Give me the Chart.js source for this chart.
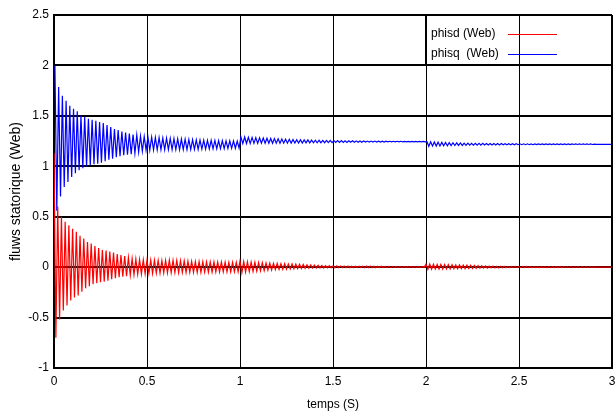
<!DOCTYPE html>
<html>
<head>
<meta charset="utf-8">
<script src="https://cdn.jsdelivr.net/npm/chart.js@4/dist/chart.umd.min.js"></script>
<style>
  html, body { margin: 0; padding: 0; background: #fff; overflow: hidden; }
  #wrap { width: 616px; height: 414px; position: relative; }
</style>
</head>
<body>
<div id="wrap"><canvas id="flux"></canvas></div>
<script>
// demi-periode des oscillations (50 Hz), en secondes
const halfPeriod = 0.01;
const startD = 0;
const startQ = 0.005;

const labels = ['phisd (Web)', 'phisq  (Web)'];
const xTicks = [0, 0.5, 1, 1.5, 2, 2.5, 3];
const yTicks = [-1, -0.5, 0, 0.5, 1, 1.5, 2, 2.5];

// phisd : crete / creux alternes, un point par demi-periode
const phisd = [
  1.13, -0.70, 0.60, -0.52, 0.50, -0.43, 0.45, -0.38, 0.415, -0.33,
  0.38, -0.30, 0.35, -0.28, 0.31, -0.245, 0.285, -0.21, 0.25, -0.19,
  0.235, -0.17, 0.21, -0.16, 0.19, -0.15, 0.17, -0.145, 0.165, -0.135,
  0.155, -0.12, 0.145, -0.11, 0.13, -0.10, 0.12, -0.095, 0.11, -0.09,
  0.095, -0.08, 0.085, -0.075, 0.08, -0.07, 0.075, -0.068, 0.072, -0.065,
  0.07, -0.063, 0.07, -0.062, 0.068, -0.06, 0.066, -0.06, 0.066, -0.058,
  0.068, -0.056, 0.07, -0.055, 0.068, -0.054, 0.066, -0.054, 0.064, -0.053,
  0.062, -0.053, 0.06, -0.052, 0.058, -0.052, 0.056, -0.053, 0.055, -0.052,
  0.054, -0.05, 0.053, -0.05, 0.052, -0.05, 0.052, -0.048, 0.05, -0.048,
  0.05, -0.047, 0.049, -0.046, 0.048, -0.046, 0.048, -0.045, 0.047, -0.045,
  0.06, -0.055, 0.055, -0.05, 0.052, -0.045, 0.05, -0.042, 0.048, -0.04,
  0.046, -0.037, 0.044, -0.034, 0.042, -0.03, 0.04, -0.028, 0.038, -0.025,
  0.037, -0.023, 0.035, -0.021, 0.034, -0.02, 0.032, -0.018, 0.031, -0.017,
  0.03, -0.015, 0.028, -0.014, 0.026, -0.012, 0.024, -0.011, 0.022, -0.01,
  0.02, -0.009, 0.018, -0.008, 0.017, -0.008, 0.015, -0.007, 0.014, -0.007,
  0.013, -0.007, 0.012, -0.006, 0.011, -0.006, 0.01, -0.005, 0.01, -0.005,
  0.009, -0.005, 0.008, -0.004, 0.008, -0.004, 0.009, -0.005, 0.01, -0.005,
  0.01, -0.005, 0.009, -0.005, 0.009, -0.004, 0.008, -0.004, 0.007, -0.004,
  0.006, -0.003, 0.006, -0.003, 0.005, -0.003, 0.005, -0.003, 0.005, -0.002,
  0.004, -0.002, 0.004, -0.002, 0.004, -0.002, 0.004, -0.002, 0.004, -0.002,
  0.03, -0.022, 0.03, -0.021, 0.029, -0.02, 0.028, -0.02, 0.027, -0.019,
  0.026, -0.018, 0.025, -0.018, 0.024, -0.017, 0.023, -0.016, 0.022, -0.016,
  0.021, -0.015, 0.02, -0.014, 0.019, -0.013, 0.018, -0.012, 0.016, -0.011,
  0.014, -0.01, 0.012, -0.009, 0.011, -0.008, 0.01, -0.007, 0.009, -0.007,
  0.008, -0.006, 0.008, -0.006, 0.007, -0.005, 0.007, -0.005, 0.006, -0.005,
  0.006, -0.005, 0.006, -0.004, 0.006, -0.004, 0.005, -0.004, 0.005, -0.004,
  0.005, -0.004, 0.005, -0.004, 0.005, -0.004, 0.005, -0.004, 0.005, -0.004,
  0.005, -0.004, 0.005, -0.004, 0.005, -0.003, 0.004, -0.003, 0.004, -0.003,
  0.004, -0.003, 0.004, -0.003, 0.004, -0.003, 0.004, -0.003, 0.004, -0.003,
  0.003, 0, 0, 0, 0, 0, 0, 0, 0, 0,
  0
];

// phisq : meme principe, decale d'un quart de periode
const phisq = [
  2.00, 0.56, 1.785, 0.70, 1.70, 0.795, 1.65, 0.845, 1.60, 0.894,
  1.57, 0.93, 1.545, 0.96, 1.505, 0.98, 1.49, 1.00, 1.47, 1.01,
  1.46, 1.02, 1.45, 1.025, 1.44, 1.035, 1.43, 1.05, 1.41, 1.065,
  1.39, 1.075, 1.37, 1.09, 1.36, 1.10, 1.345, 1.11, 1.335, 1.115,
  1.325, 1.12, 1.315, 1.13, 1.31, 1.14, 1.30, 1.15, 1.295, 1.16,
  1.29, 1.16, 1.288, 1.162, 1.285, 1.163, 1.283, 1.165, 1.28, 1.165,
  1.278, 1.166, 1.276, 1.166, 1.274, 1.166, 1.272, 1.165, 1.27, 1.165,
  1.268, 1.165, 1.266, 1.166, 1.264, 1.167, 1.262, 1.168, 1.26, 1.17,
  1.259, 1.171, 1.258, 1.172, 1.257, 1.173, 1.256, 1.174, 1.255, 1.175,
  1.254, 1.176, 1.253, 1.177, 1.252, 1.178, 1.251, 1.179, 1.25, 1.18,
  1.29, 1.225, 1.29, 1.226, 1.288, 1.226, 1.286, 1.227, 1.284, 1.227,
  1.282, 1.228, 1.28, 1.228, 1.278, 1.228, 1.276, 1.228, 1.274, 1.228,
  1.272, 1.228, 1.27, 1.229, 1.268, 1.229, 1.267, 1.23, 1.266, 1.23,
  1.264, 1.231, 1.263, 1.231, 1.262, 1.232, 1.261, 1.232, 1.26, 1.233,
  1.259, 1.233, 1.258, 1.234, 1.257, 1.234, 1.256, 1.235, 1.256, 1.235,
  1.255, 1.236, 1.254, 1.236, 1.254, 1.237, 1.253, 1.237, 1.253, 1.238,
  1.252, 1.238, 1.252, 1.239, 1.251, 1.239, 1.251, 1.24, 1.25, 1.24,
  1.25, 1.24, 1.25, 1.241, 1.249, 1.241, 1.249, 1.241, 1.249, 1.242,
  1.248, 1.242, 1.248, 1.242, 1.248, 1.242, 1.248, 1.242, 1.247, 1.242,
  1.247, 1.243, 1.247, 1.243, 1.247, 1.243, 1.247, 1.243, 1.247, 1.243,
  1.245, 1.198, 1.243, 1.2, 1.241, 1.201, 1.239, 1.202, 1.237, 1.203,
  1.236, 1.204, 1.234, 1.205, 1.233, 1.206, 1.232, 1.207, 1.231, 1.207,
  1.23, 1.208, 1.229, 1.209, 1.228, 1.209, 1.228, 1.21, 1.227, 1.21,
  1.227, 1.211, 1.226, 1.211, 1.226, 1.212, 1.225, 1.212, 1.225, 1.212,
  1.225, 1.213, 1.224, 1.213, 1.224, 1.213, 1.224, 1.213, 1.223, 1.214,
  1.223, 1.214, 1.223, 1.214, 1.223, 1.214, 1.222, 1.214, 1.222, 1.215,
  1.222, 1.215, 1.222, 1.215, 1.222, 1.215, 1.222, 1.215, 1.222, 1.215,
  1.222, 1.215, 1.221, 1.215, 1.221, 1.215, 1.221, 1.215, 1.221, 1.216,
  1.221, 1.216, 1.221, 1.216, 1.221, 1.216, 1.221, 1.216, 1.221, 1.216,
  1.22, 1.218, 1.218, 1.218, 1.218, 1.218, 1.218, 1.218, 1.218, 1.218
];

const toPoints = (values, start) => values.map((v, i) => ({ x: start + i * halfPeriod, y: v }));
const tickText = (v) => String(Number(v.toFixed(2)));

const font = '"Liberation Sans", Arial, sans-serif';

// legende dessinee dans le coin haut droit, facon matlab
const legendBox = {
  id: 'legendBox',
  afterDatasetsDraw(chart) {
    const ctx = chart.ctx;
    const top = chart.chartArea.top;
    ctx.save();
    ctx.strokeStyle = '#000';
    ctx.lineWidth = 1;
    ctx.beginPath();
    ctx.moveTo(425.5, top);
    ctx.lineTo(425.5, top + 49);
    ctx.stroke();
    ctx.font = '12px ' + font;
    ctx.textBaseline = 'middle';
    ctx.fillStyle = '#000';
    chart.data.datasets.forEach((ds, i) => {
      const y = top + 19 + i * 20;
      ctx.fillText(ds.label, 431, y);
      ctx.strokeStyle = ds.borderColor;
      ctx.beginPath();
      ctx.moveTo(508, Math.round(y) + 0.5);
      ctx.lineTo(557, Math.round(y) + 0.5);
      ctx.stroke();
    });
    ctx.restore();
  }
};

new Chart(document.getElementById('flux'), {
  type: 'line',
  data: {
    datasets: [
      {
        label: labels[0],
        data: toPoints(phisd, startD),
        borderColor: '#ff0000',
        borderWidth: 1.2,
        pointRadius: 0,
        tension: 0
      },
      {
        label: labels[1],
        data: toPoints(phisq, startQ),
        borderColor: '#0000ff',
        borderWidth: 1.2,
        pointRadius: 0,
        tension: 0
      }
    ]
  },
  options: {
    responsive: true,
    maintainAspectRatio: false,
    animation: false,
    layout: { padding: { top: 15, right: 4, left: 0, bottom: 0 } },
    plugins: {
      legend: { display: false },
      tooltip: { enabled: false }
    },
    scales: {
      x: {
        type: 'linear',
        min: 0,
        max: 3,
        afterBuildTicks: (scale) => { scale.ticks = xTicks.map(v => ({ value: v })); },
        afterFit: (scale) => { scale.height = 46; scale.paddingRight = 0; scale.paddingLeft = 0; },
        ticks: { color: '#000', font: { family: font, size: 12 }, padding: 6, maxRotation: 0, callback: tickText },
        grid: {
          color: '#000',
          lineWidth: (c) => (c.tick && c.tick.value === 3 ? 2 : 1),
          drawTicks: false
        },
        border: { color: '#000', width: 2 },
        title: {
          display: true,
          text: 'temps (S)',
          color: '#000',
          font: { family: font, size: 12 },
          padding: { top: 0, bottom: 2 }
        }
      },
      y: {
        min: -1,
        max: 2.5,
        afterBuildTicks: (scale) => { scale.ticks = yTicks.map(v => ({ value: v })); },
        afterFit: (scale) => { scale.width = 54; },
        ticks: { color: '#000', font: { family: font, size: 12 }, padding: 5, callback: tickText },
        grid: { color: '#000', lineWidth: 2, drawTicks: false },
        border: { color: '#000', width: 2 },
        title: {
          display: true,
          text: 'fluws statorique (Web)',
          color: '#000',
          font: { family: font, size: 14 },
          padding: { top: 8, bottom: 0 }
        }
      }
    }
  },
  plugins: [legendBox]
});
</script>
</body>
</html>
